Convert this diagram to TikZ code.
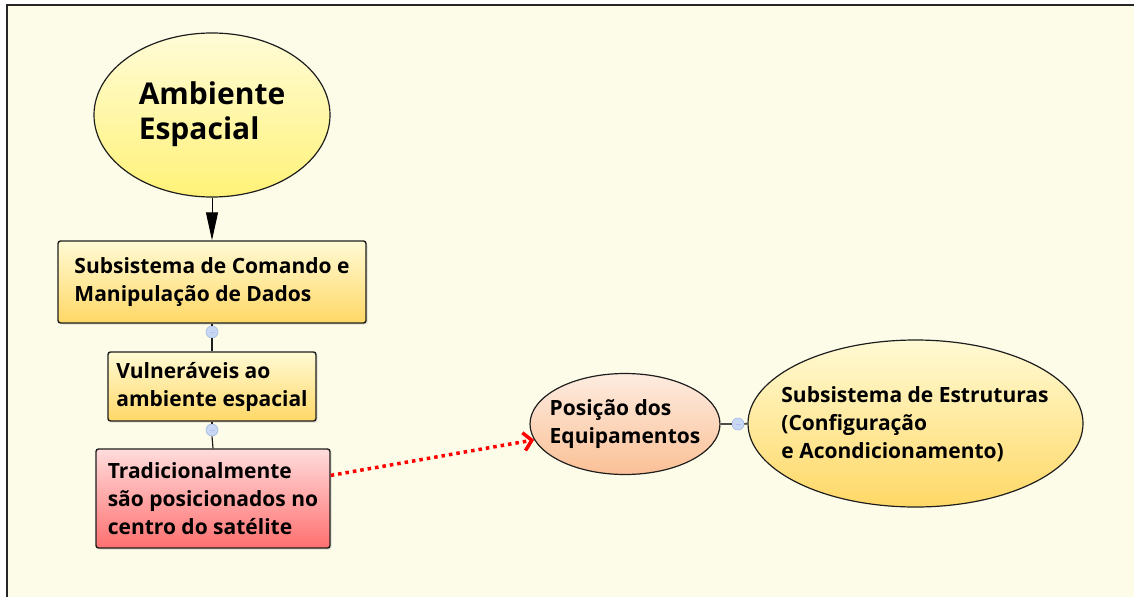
\documentclass[tikz,border=0pt]{standalone}
\usepackage{fontspec}
\setmainfont{Open Sans}
\usetikzlibrary{shapes.geometric,arrows.meta,shadows,calc}
\definecolor{bg}{RGB}{253,252,232}
\definecolor{yelA}{RGB}{255,252,215}
\definecolor{yelB}{RGB}{255,242,120}
\definecolor{golA}{RGB}{255,250,212}
\definecolor{golB}{RGB}{255,216,102}
\definecolor{pinkA}{RGB}{255,220,220}
\definecolor{pinkB}{RGB}{255,112,112}
\definecolor{peachA}{RGB}{253,236,224}
\definecolor{peachB}{RGB}{251,192,150}
\definecolor{knobfill}{RGB}{200,216,242}
\definecolor{knobline}{RGB}{160,186,230}
\definecolor{edge}{RGB}{30,30,30}
\begin{document}
\begin{tikzpicture}[x=1pt,y=-1pt,
  txt/.style={font=\bfseries\fontsize{21}{28}\selectfont, align=left, inner sep=0pt, text=black},
  bigtxt/.style={font=\bfseries\fontsize{30}{35}\selectfont, align=left, inner sep=0pt, text=black},
  boxshape/.style={rectangle, rounded corners=2.5pt, draw=edge, line width=1.4pt, inner sep=0pt,
     align=left, font=\bfseries\fontsize{21}{28}\selectfont,
     drop shadow={shadow xshift=1.5pt, shadow yshift=-1.5pt, opacity=0.25}},
  ellshape/.style={ellipse, draw=edge, line width=1.2pt, inner sep=0pt},
  knob/.style={circle, fill=knobfill, draw=knobline, line width=0.6pt, minimum size=12pt, inner sep=0pt,
     path picture={\draw[knobline!80!blue!60!white, line width=0.8pt] ($(path picture bounding box.center)+(-2.5pt,0)$) -- ($(path picture bounding box.center)+(2.5pt,0)$);}},
  conn/.style={draw=edge, line width=1.2pt},
  arr/.style={draw=black, line width=1pt, -{Triangle[length=28pt,width=12pt]}},
  reddot/.style={draw=red, line width=3.5pt, dash pattern=on 3.5pt off 4pt, -{Straight Barb[length=8pt,width=18pt]}}
]
\useasboundingbox (0,0) rectangle (1134,597);
\fill[white] (0,0) rectangle (1134,597);
\fill[bg] (7,5) rectangle (1134,597);
\draw[line width=2pt, draw=black!85] (7,597) -- (7,5) -- (1134,5);

% Ambiente Espacial
\node[ellshape, top color=yelA, bottom color=yelB, minimum width=236pt, minimum height=164pt] (amb) at (212,115) {};
\node[bigtxt] (ambt) at (212,114) {Ambiente\\Espacial};

% boxes
\node[boxshape, top color=golA, bottom color=golB, minimum width=308pt, minimum height=82pt]
      (cmd) at (212,282) {Subsistema de Comando e\\Manipulação de Dados};
\node[boxshape, top color=golA, bottom color=golB, minimum width=208pt, minimum height=69pt]
      (vul) at (212,386.5) {Vulneráveis ao\\ambiente espacial};
\node[boxshape, top color=pinkA, bottom color=pinkB, minimum width=234pt, minimum height=99pt]
      (trad) at (213,498.5) {Tradicionalmente\\são posicionados no\\centro do satélite};

% ellipses right
\node[ellshape, top color=peachA, bottom color=peachB, minimum width=190pt, minimum height=101pt] (pos) at (625,424) {};
\node[txt] (post) at (625,424) {Posição dos\\Equipamentos};
\node[ellshape, top color=golA, bottom color=golB, minimum width=335pt, minimum height=167pt] (big) at (915.5,423.5) {};
\node[txt] (bigt) at (915,424) {Subsistema de Estruturas\\(Configuração\\e Acondicionamento)};

% knobs
\node[knob] (k1) at (212,332) {};
\node[knob] (k2) at (212,430) {};
\node[knob] (k3) at (738,424) {};

% connectors
\draw[arr] (amb.south) -- (cmd.north);
\draw[conn] (cmd.south) -- (k1.north);
\draw[conn] (k1.south) -- (vul.north);
\draw[conn] (vul.south) -- (k2.north);
\draw[conn] (k2.south) -- (trad.north);
\draw[conn, line width=1.8pt, draw=black!70] (pos.east) -- (k3.west);
\draw[conn, line width=1.8pt, draw=black!70] (k3.east) -- (big.west);
\coordinate (rs) at ($(trad.north east)!0.27!(trad.south east)$);
\draw[reddot] (rs) -- (pos);
\end{tikzpicture}
\end{document}
